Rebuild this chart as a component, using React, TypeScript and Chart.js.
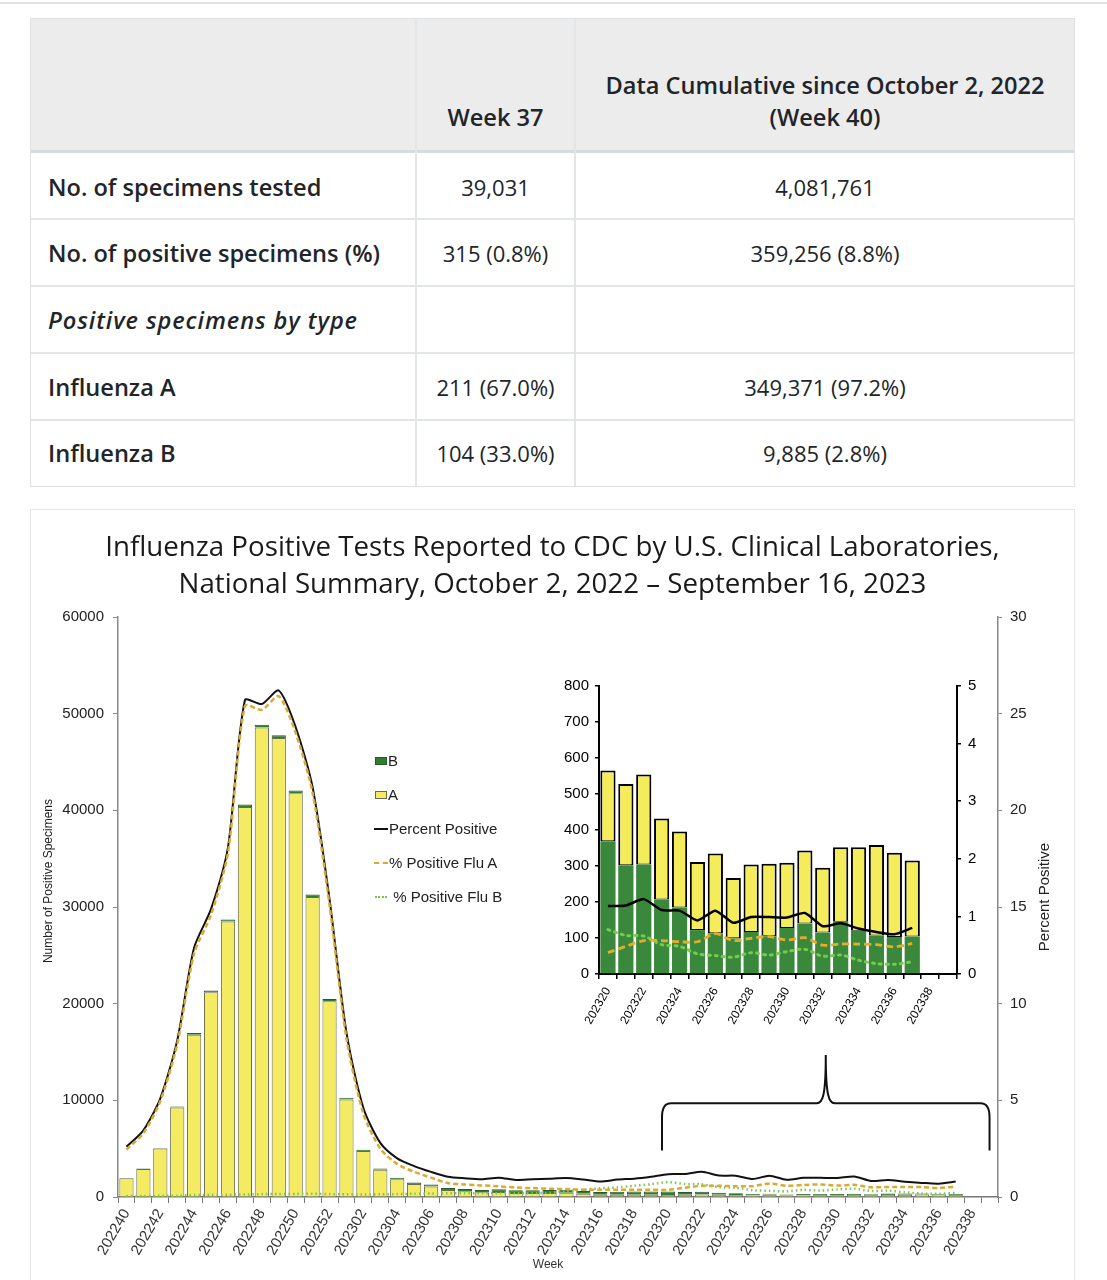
import React, { useEffect, useRef } from 'react';
import { Chart, registerables } from 'chart.js';

Chart.register(...registerables);

const ARIAL = "'Liberation Sans', Arial, Helvetica, sans-serif";
const OPEN_SANS = "'Open Sans', 'Noto Sans', sans-serif";

// ---------------- table content ----------------
const tableRowLabels = [
  'No. of specimens tested',
  'No. of positive specimens (%)',
  'Positive specimens by type',
  'Influenza A',
  'Influenza B',
];
const tableWeekValues = ['39,031', '315 (0.8%)', '', '211 (67.0%)', '104 (33.0%)'];
const tableCumulativeValues = ['4,081,761', '359,256 (8.8%)', '', '349,371 (97.2%)', '9,885 (2.8%)'];

// ---------------- chart data ----------------
const chartTitle = [
  'Influenza Positive Tests Reported to CDC by U.S. Clinical Laboratories,',
  'National Summary, October 2, 2022 \u2013 September 16, 2023',
];

const weeks = [
  '202240', '202241', '202242', '202243', '202244', '202245', '202246', '202247', '202248', '202249',
  '202250', '202251', '202252', '202301', '202302', '202303', '202304', '202305', '202306', '202307',
  '202308', '202309', '202310', '202311', '202312', '202313', '202314', '202315', '202316', '202317',
  '202318', '202319', '202320', '202321', '202322', '202323', '202324', '202325', '202326', '202327',
  '202328', '202329', '202330', '202331', '202332', '202333', '202334', '202335', '202336', '202337',
  '202338', '202339',
];

// number of positive specimens, influenza A
const countA = [
  1935, 2900, 5010, 9260, 16790, 21175, 28500, 40350, 48570, 47490,
  41770, 31030, 20245, 10090, 4750, 2810, 1830, 1340, 1090, 730,
  600, 480, 510, 420, 410, 420, 450, 330, 220, 220,
  220, 220, 196, 226, 250, 225, 211, 189, 222, 168,
  187, 201, 181, 203, 180, 207, 232, 251, 234, 211,
  null, null,
];

// number of positive specimens, influenza B
const countB = [
  30, 40, 60, 90, 170, 200, 220, 260, 280, 290,
  290, 270, 230, 190, 150, 140, 150, 160, 200, 210,
  230, 240, 280, 270, 280, 300, 310, 290, 300, 320,
  340, 360, 369, 302, 304, 207, 185, 122, 113, 99,
  117, 105, 128, 140, 115, 145, 120, 107, 103, 104,
  null, null,
];

// percent positive (all influenza)
const pctPositive = [
  2.6, 3.45, 5.1, 8.1, 12.9, 14.9, 18.1, 25.7, 25.5, 26.2,
  24.3, 21.2, 15.4, 8.5, 4.6, 2.8, 2.0, 1.6, 1.3, 1.05,
  0.97, 0.92, 1.0, 0.88, 0.92, 0.95, 0.98, 0.9, 0.8, 0.9,
  0.95, 1.05, 1.18, 1.19, 1.3, 1.11, 1.1, 0.93, 1.1, 0.89,
  0.99, 0.99, 0.98, 1.06, 0.83, 0.88, 0.79, 0.73, 0.69, 0.8,
  null, null,
];

const pctFluA = [
  2.45, 3.3, 4.95, 7.9, 12.6, 14.6, 17.8, 25.4, 25.2, 25.9,
  24.0, 20.9, 15.1, 8.2, 4.3, 2.5, 1.7, 1.3, 1.0, 0.72,
  0.65, 0.6, 0.55, 0.49, 0.46, 0.43, 0.41, 0.38, 0.38, 0.38,
  0.38, 0.38, 0.37, 0.48, 0.58, 0.58, 0.56, 0.56, 0.7, 0.58,
  0.62, 0.65, 0.59, 0.63, 0.5, 0.52, 0.52, 0.51, 0.47, 0.53,
  null, null,
];

const pctFluB = [
  0.05, 0.05, 0.06, 0.07, 0.1, 0.11, 0.12, 0.13, 0.15, 0.16,
  0.16, 0.17, 0.15, 0.14, 0.13, 0.14, 0.15, 0.17, 0.18, 0.19,
  0.19, 0.19, 0.2, 0.2, 0.2, 0.22, 0.3, 0.38, 0.45, 0.5,
  0.58, 0.66, 0.77, 0.67, 0.66, 0.51, 0.48, 0.35, 0.32, 0.29,
  0.37, 0.33, 0.39, 0.43, 0.31, 0.33, 0.24, 0.18, 0.17, 0.21,
  null, null,
];

const insetFirstWeek = '202320';

// colours
const YELLOW = '#f4eb62';
const GREEN = '#2f7d33';
const INSET_GREEN = '#3a883b';
const ORANGE = '#dcaa33';
const LIGHT_GREEN = '#7cc64c';

const plainNumber = (v: any) => String(v);

const braceAndTitlePlugin = {
  id: 'braceAndTitle',
  afterDraw(chart: any) {
    const { ctx, scales, chartArea } = chart;
    const x = scales.x;
    const y1 = scales.y1;
    const startIdx = weeks.indexOf(insetFirstWeek);
    const xl = x.getPixelForValue(startIdx) - 6;
    const xr = x.getPixelForValue(weeks.length - 1);
    const xm = (xl + xr) / 2;
    const yb = y1.getPixelForValue(2.4);
    const yh = y1.getPixelForValue(4.85);
    const yt = y1.getPixelForValue(7.35);
    ctx.save();
    ctx.strokeStyle = '#111';
    ctx.lineWidth = 2;
    ctx.beginPath();
    ctx.moveTo(xl, yb);
    ctx.lineTo(xl, yh + 14);
    ctx.quadraticCurveTo(xl, yh, xl + 9, yh);
    ctx.lineTo(xm - 9, yh);
    ctx.bezierCurveTo(xm - 3, yh, xm, yh - 8, xm, yt);
    ctx.bezierCurveTo(xm, yh - 8, xm + 3, yh, xm + 9, yh);
    ctx.lineTo(xr - 9, yh);
    ctx.quadraticCurveTo(xr, yh, xr, yh + 14);
    ctx.lineTo(xr, yb);
    ctx.stroke();
    ctx.restore();

    const midY = (chartArea.top + chartArea.bottom) / 2;
    // left axis title
    ctx.save();
    ctx.translate(chartArea.left - 69, midY - 26);
    ctx.rotate(-Math.PI / 2);
    ctx.fillStyle = '#222';
    ctx.font = `12px ${ARIAL}`;
    ctx.textAlign = 'center';
    ctx.textBaseline = 'middle';
    ctx.fillText('Number of Positive Specimens', 0, 0);
    ctx.restore();

    // right axis title (reads bottom to top)
    ctx.save();
    ctx.translate(chartArea.right + 47, midY - 10);
    ctx.rotate(-Math.PI / 2);
    ctx.fillStyle = '#222';
    ctx.font = `15px ${ARIAL}`;
    ctx.textAlign = 'center';
    ctx.textBaseline = 'middle';
    ctx.fillText('Percent Positive', 0, 0);
    ctx.restore();

    // x axis title
    ctx.save();
    ctx.fillStyle = '#333';
    ctx.font = `12px ${ARIAL}`;
    ctx.textAlign = 'center';
    ctx.textBaseline = 'middle';
    ctx.fillText('Week', (chartArea.left + chartArea.right) / 2 - 10, chart.height - 15);
    ctx.restore();
  },
};

function MainChart() {
  const ref = useRef<HTMLCanvasElement | null>(null);
  useEffect(() => {
    if (!ref.current) return;
    const chart = new Chart(ref.current, {
      type: 'bar',
      data: {
        labels: weeks,
        datasets: [
          {
            type: 'line', label: '% Positive Flu A', data: pctFluA, yAxisID: 'y1',
            borderColor: ORANGE, borderWidth: 2.5, borderDash: [5, 3], pointRadius: 0, tension: 0.25, order: 1,
          },
          {
            type: 'line', label: '% Positive Flu B', data: pctFluB, yAxisID: 'y1',
            borderColor: LIGHT_GREEN, borderWidth: 2.5, borderDash: [1.5, 3], pointRadius: 0, tension: 0.25, order: 2,
          },
          {
            type: 'line', label: 'Percent Positive', data: pctPositive, yAxisID: 'y1',
            borderColor: '#111', borderWidth: 2, pointRadius: 0, tension: 0.25, order: 3,
          },
          {
            type: 'bar', label: 'A', data: countA, yAxisID: 'y', stack: 'pos',
            backgroundColor: YELLOW, borderColor: '#6a6a4c', borderWidth: 1,
            barPercentage: 0.84, categoryPercentage: 1, order: 10,
          },
          {
            type: 'bar', label: 'B', data: countB, yAxisID: 'y', stack: 'pos',
            backgroundColor: GREEN, borderColor: '#2a5a2a', borderWidth: 1,
            barPercentage: 0.84, categoryPercentage: 1, order: 10,
          },
        ] as any,
      },
      options: {
        responsive: false,
        animation: false,
        devicePixelRatio: 1,
        events: [],
        layout: { padding: 0 },
        plugins: {
          legend: { display: false },
          tooltip: { enabled: false },
          title: {
            display: true,
            text: chartTitle,
            color: '#1a1a1a',
            font: { family: OPEN_SANS, size: 27.7, weight: 'normal', lineHeight: 1.336 },
            padding: { top: 20, bottom: 13 },
          },
        },
        scales: {
          x: {
            type: 'category',
            stacked: true,
            offset: true,
            grid: { display: true, drawOnChartArea: false, drawTicks: true, tickLength: 6, offset: true, color: '#777', lineWidth: 1 },
            border: { display: true, color: '#777', width: 1.5 },
            ticks: {
              autoSkip: false, minRotation: 60, maxRotation: 60, padding: 3, color: '#333',
              font: { family: ARIAL, size: 15 },
              callback: (_v: any, i: number) => (i % 2 === 0 ? weeks[i] : ''),
            },
            afterFit: (s: any) => { s.height = 83; },
          },
          y: {
            position: 'left',
            stacked: true,
            min: 0, max: 60000,
            grid: { drawOnChartArea: false, drawTicks: true, tickLength: 5, color: '#888' },
            border: { display: true, color: '#888', width: 1.5 },
            ticks: { stepSize: 10000, padding: 9, color: '#222', font: { family: ARIAL, size: 15 }, callback: plainNumber },
            afterFit: (s: any) => { s.width = 88; },
          },
          y1: {
            position: 'right',
            min: 0, max: 30,
            grid: { drawOnChartArea: false, drawTicks: true, tickLength: 4, color: '#888' },
            border: { display: true, color: '#888', width: 1.5 },
            ticks: { stepSize: 5, padding: 8, color: '#222', font: { family: ARIAL, size: 15 }, callback: plainNumber },
            afterFit: (s: any) => { s.width = 77; },
          },
        },
      } as any,
      plugins: [braceAndTitlePlugin],
    });
    return () => chart.destroy();
  }, []);
  return (
    <canvas
      ref={ref}
      width={1045}
      height={770}
      style={{ position: 'absolute', left: 30, top: 510, width: 1045, height: 770 }}
    />
  );
}

function InsetChart() {
  const ref = useRef<HTMLCanvasElement | null>(null);
  useEffect(() => {
    if (!ref.current) return;
    const start = weeks.indexOf(insetFirstWeek);
    const insetWeeks = weeks.slice(start);
    const chart = new Chart(ref.current, {
      type: 'bar',
      data: {
        labels: insetWeeks,
        datasets: [
          {
            type: 'line', label: '% Positive Flu A', data: pctFluA.slice(start), yAxisID: 'y1',
            borderColor: '#e5ac2e', borderWidth: 2.8, borderDash: [7, 4], pointRadius: 0, tension: 0.3, order: 1,
          },
          {
            type: 'line', label: '% Positive Flu B', data: pctFluB.slice(start), yAxisID: 'y1',
            borderColor: '#74cc4a', borderWidth: 3, borderDash: [2, 5], borderCapStyle: 'round', pointRadius: 0, tension: 0.3, order: 2,
          },
          {
            type: 'line', label: 'Percent Positive', data: pctPositive.slice(start), yAxisID: 'y1',
            borderColor: '#000', borderWidth: 2.5, pointRadius: 0, tension: 0.2, order: 3,
          },
          {
            type: 'bar', label: 'B', data: countB.slice(start), yAxisID: 'y', stack: 'pos',
            backgroundColor: INSET_GREEN, borderWidth: 0,
            barPercentage: 0.85, categoryPercentage: 1, order: 10,
          },
          {
            type: 'bar', label: 'A', data: countA.slice(start), yAxisID: 'y', stack: 'pos',
            backgroundColor: '#f5ec5c', borderColor: '#000', borderWidth: { top: 2, left: 2, right: 2, bottom: 1 },
            borderSkipped: false,
            barPercentage: 0.85, categoryPercentage: 1, order: 10,
          },
        ] as any,
      },
      options: {
        responsive: false,
        animation: false,
        devicePixelRatio: 1,
        events: [],
        layout: { padding: { top: 15, left: 0, right: 0, bottom: 0 } },
        plugins: { legend: { display: false }, tooltip: { enabled: false }, title: { display: false } },
        scales: {
          x: {
            type: 'category',
            stacked: true,
            offset: true,
            grid: { display: true, drawOnChartArea: false, drawTicks: true, tickLength: 5, offset: true, color: '#000', lineWidth: 1.5 },
            border: { display: true, color: '#000', width: 2 },
            ticks: {
              autoSkip: false, minRotation: 60, maxRotation: 60, padding: 6, color: '#000',
              font: { family: ARIAL, size: 12 },
              callback: (_v: any, i: number) => (i % 2 === 0 ? insetWeeks[i] : ''),
            },
            afterFit: (s: any) => { s.height = 66; },
          },
          y: {
            position: 'left',
            stacked: true,
            min: 0, max: 800,
            grid: { drawOnChartArea: false, drawTicks: true, tickLength: 4, color: '#000', lineWidth: 1.5 },
            border: { display: true, color: '#000', width: 2 },
            ticks: { stepSize: 100, padding: 6, color: '#000', font: { family: ARIAL, size: 15 }, callback: plainNumber },
            afterFit: (s: any) => { s.width = 59; },
          },
          y1: {
            position: 'right',
            min: 0, max: 5,
            grid: { drawOnChartArea: false, drawTicks: true, tickLength: 4, color: '#000', lineWidth: 1.5 },
            border: { display: true, color: '#000', width: 2 },
            ticks: { stepSize: 1, padding: 7, color: '#000', font: { family: ARIAL, size: 15 }, callback: plainNumber },
            afterFit: (s: any) => { s.width = 43; },
          },
        },
      } as any,
    });
    return () => chart.destroy();
  }, []);
  return (
    <canvas
      ref={ref}
      width={460}
      height={370}
      style={{ position: 'absolute', left: 540, top: 670, width: 460, height: 370 }}
    />
  );
}

function LegendRow({ y, sample, label, textX }: { y: number; sample: React.ReactNode; label: string; textX: number }) {
  return (
    <>
      {sample}
      <div
        style={{
          position: 'absolute', left: textX, top: y - 10, height: 20, lineHeight: '20px',
          fontFamily: ARIAL, fontSize: 15, color: '#222', whiteSpace: 'nowrap',
        }}
      >
        {label}
      </div>
    </>
  );
}

function MainLegend() {
  return (
    <div>
      <LegendRow
        y={761} textX={388} label="B"
        sample={<div style={{ position: 'absolute', left: 375, top: 757, width: 12, height: 8, background: GREEN, border: '1px solid #245a24', boxSizing: 'border-box' }} />}
      />
      <LegendRow
        y={795} textX={388} label="A"
        sample={<div style={{ position: 'absolute', left: 375, top: 791, width: 12, height: 8, background: YELLOW, border: '1px solid #6a6a4c', boxSizing: 'border-box' }} />}
      />
      <LegendRow
        y={829} textX={389} label="Percent Positive"
        sample={<div style={{ position: 'absolute', left: 374, top: 828, width: 14, height: 2, background: '#111' }} />}
      />
      <LegendRow
        y={863} textX={389} label="% Positive Flu A"
        sample={<div style={{ position: 'absolute', left: 374, top: 862, width: 14, height: 0, borderTop: `2px dashed ${ORANGE}` }} />}
      />
      <LegendRow
        y={897} textX={389} label={'\u00a0% Positive Flu B'}
        sample={<div style={{ position: 'absolute', left: 375, top: 896, width: 12, height: 0, borderTop: `2px dotted ${LIGHT_GREEN}` }} />}
      />
    </div>
  );
}

function InfoTable() {
  const rowCenters = [187, 253, 320, 387, 453];
  const rowLines = [218, 285, 352, 419];
  const textBase: React.CSSProperties = {
    position: 'absolute', fontFamily: OPEN_SANS, fontSize: 22, color: '#212529',
    height: 32, lineHeight: '32px', whiteSpace: 'nowrap',
  };
  const strong: React.CSSProperties = { fontSize: 23.6, fontWeight: 600 };
  return (
    <div>
      <div style={{ position: 'absolute', left: 30, top: 18, width: 1045, height: 469, border: '1px solid #dfe2e5', boxSizing: 'border-box' }} />
      <div style={{ position: 'absolute', left: 31, top: 19, width: 1043, height: 131, background: '#ececec' }} />
      <div style={{ position: 'absolute', left: 31, top: 150, width: 1043, height: 3, background: '#d7dbe0' }} />
      {rowLines.map((y) => (
        <div key={y} style={{ position: 'absolute', left: 31, top: y, width: 1043, height: 2, background: '#e3e6e9' }} />
      ))}
      {[415, 574].map((x) => (
        <div key={x} style={{ position: 'absolute', left: x, top: 19, width: 2, height: 467, background: '#e3e6e9' }} />
      ))}
      <div style={{ ...textBase, ...strong, left: 416, width: 159, top: 117 - 16, textAlign: 'center' }}>Week 37</div>
      <div style={{ ...textBase, ...strong, left: 575, width: 500, top: 85 - 16, textAlign: 'center' }}>
        Data Cumulative since October 2, 2022
      </div>
      <div style={{ ...textBase, ...strong, left: 575, width: 500, top: 117 - 16, textAlign: 'center' }}>(Week 40)</div>
      {tableRowLabels.map((label, i) => (
        <React.Fragment key={label}>
          <div
            style={{
              ...textBase, ...strong, left: 48, top: rowCenters[i] - 16,
              fontStyle: i === 2 ? 'italic' : 'normal',
              letterSpacing: i === 2 ? '0.9px' : 'normal',
            }}
          >
            {label}
          </div>
          <div style={{ ...textBase, left: 416, width: 159, top: rowCenters[i] - 16, textAlign: 'center' }}>{tableWeekValues[i]}</div>
          <div style={{ ...textBase, left: 575, width: 500, top: rowCenters[i] - 16, textAlign: 'center' }}>{tableCumulativeValues[i]}</div>
        </React.Fragment>
      ))}
    </div>
  );
}

export default function App() {
  return (
    <div style={{ position: 'absolute', left: 0, top: 0, width: 1107, height: 1280, overflow: 'hidden', background: '#fff' }}>
      <div style={{ position: 'absolute', left: 0, top: 2, width: 1107, height: 2, background: '#e2e2e2' }} />
      <InfoTable />
      <div style={{ position: 'absolute', left: 30, top: 509, width: 1045, height: 800, border: '1px solid #e6e6e6', boxSizing: 'border-box' }} />
      <MainChart />
      <InsetChart />
      <MainLegend />
    </div>
  );
}
